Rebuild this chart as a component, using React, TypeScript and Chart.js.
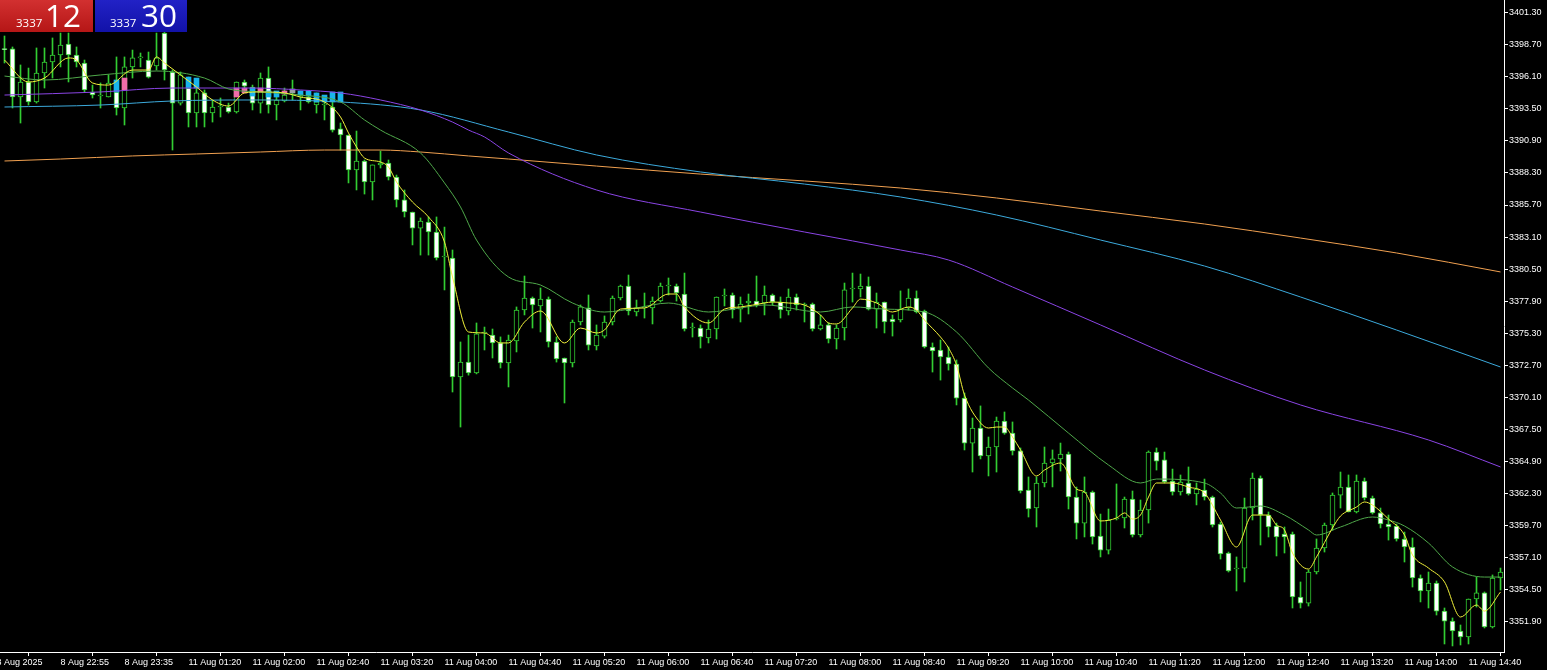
import React, { useEffect, useRef } from 'react';
import { Chart, registerables } from 'chart.js';
Chart.register(...registerables);

// ---- candle data (5-minute bars, index 0 = 8 Aug 22:15) ----
const opens = [
  3398.36, 3398.36, 3394.46, 3395.68, 3394.06, 3396.41, 3397.30, 3397.87, 3398.76, 3397.87,
  3397.22, 3394.87, 3394.54, 3394.46, 3394.87, 3393.57, 3396.90, 3397.63, 3397.46, 3396.98,
  3399.65, 3396.49, 3393.97, 3395.19, 3393.16, 3394.79, 3393.16, 3393.65, 3393.65, 3393.25,
  3395.68, 3395.27, 3393.97, 3396.00, 3393.81, 3394.14, 3394.87, 3394.46, 3394.46, 3393.81,
  3393.81, 3393.65, 3391.87, 3391.38, 3388.54, 3389.27, 3387.57, 3388.95, 3389.11, 3387.97,
  3386.11, 3385.13, 3383.83, 3384.32, 3383.51, 3381.48, 3381.40, 3371.75, 3372.96, 3372.07,
  3375.32, 3375.15, 3374.51, 3372.88, 3374.67, 3377.18, 3378.16, 3377.51, 3378.07, 3374.59,
  3373.29, 3372.88, 3376.21, 3377.35, 3374.26, 3375.07, 3376.21, 3378.16, 3379.13, 3377.02,
  3377.35, 3377.35, 3377.91, 3379.13, 3379.13, 3378.48, 3375.72, 3375.72, 3374.91, 3375.64,
  3378.32, 3378.40, 3377.26, 3377.75, 3377.91, 3377.75, 3378.40, 3377.83, 3377.10, 3378.24,
  3377.59, 3377.67, 3375.64, 3375.97, 3374.83, 3375.72, 3378.89, 3378.89, 3379.13, 3377.26,
  3377.83, 3376.45, 3376.37, 3377.35, 3378.16, 3377.10, 3374.18, 3373.94, 3373.37, 3372.80,
  3370.04, 3366.39, 3367.61, 3365.34, 3366.07, 3368.18, 3367.20, 3365.75, 3362.58, 3361.12,
  3363.15, 3364.77, 3365.10, 3365.50, 3362.01, 3359.90, 3362.42, 3358.85, 3357.71, 3360.23,
  3360.31, 3361.85, 3358.93, 3360.96, 3365.66, 3365.02, 3363.31, 3362.42, 3363.15, 3362.26,
  3362.58, 3362.01, 3359.82, 3357.47, 3356.17, 3356.25, 3361.12, 3363.55, 3360.55, 3359.66,
  3359.01, 3359.01, 3353.90, 3353.41, 3355.93, 3357.88, 3359.74, 3362.17, 3362.82, 3360.80,
  3363.31, 3361.93, 3360.72, 3359.82, 3359.66, 3358.61, 3357.96, 3355.44, 3354.39, 3355.04,
  3352.76, 3351.95, 3351.14, 3350.66, 3353.74, 3354.23, 3351.47, 3355.44,
];
const highs = [
  3399.41, 3398.52, 3397.06, 3396.81, 3398.44, 3398.44, 3399.25, 3399.65, 3399.65, 3398.52,
  3397.46, 3395.43, 3395.60, 3396.25, 3397.71, 3397.71, 3398.27, 3398.03, 3398.11, 3399.65,
  3399.70, 3396.65, 3396.49, 3396.08, 3395.19, 3395.03, 3394.22, 3394.38, 3393.97, 3395.68,
  3395.84, 3395.43, 3396.41, 3396.90, 3394.46, 3395.19, 3395.84, 3394.95, 3394.79, 3394.79,
  3394.46, 3394.06, 3392.35, 3391.38, 3391.70, 3389.35, 3388.95, 3390.08, 3389.35, 3388.13,
  3386.92, 3385.13, 3384.65, 3384.73, 3384.73, 3383.91, 3382.05, 3374.59, 3375.15, 3376.13,
  3375.80, 3375.64, 3375.00, 3375.15, 3377.43, 3379.94, 3378.24, 3378.97, 3378.24, 3375.00,
  3373.29, 3376.37, 3377.59, 3378.40, 3375.97, 3376.70, 3378.32, 3379.21, 3380.02, 3377.99,
  3378.56, 3378.24, 3379.37, 3379.78, 3379.29, 3380.18, 3376.13, 3375.97, 3376.37, 3378.24,
  3378.89, 3378.56, 3378.24, 3378.48, 3379.94, 3379.13, 3378.48, 3378.24, 3378.89, 3378.48,
  3377.75, 3377.75, 3376.78, 3376.13, 3375.97, 3379.37, 3380.18, 3380.10, 3379.86, 3378.56,
  3377.83, 3376.78, 3378.73, 3378.89, 3378.73, 3377.18, 3374.51, 3374.75, 3374.18, 3373.13,
  3370.45, 3368.42, 3369.40, 3366.88, 3368.50, 3368.91, 3368.10, 3365.99, 3363.64, 3363.64,
  3366.07, 3365.83, 3366.39, 3365.66, 3362.82, 3363.64, 3362.50, 3360.63, 3361.04, 3363.07,
  3362.01, 3362.50, 3361.77, 3365.75, 3365.99, 3365.66, 3364.28, 3363.80, 3364.45, 3363.15,
  3363.47, 3362.09, 3359.98, 3357.55, 3357.15, 3361.93, 3363.96, 3363.72, 3360.80, 3359.90,
  3359.58, 3359.17, 3355.12, 3356.09, 3358.61, 3359.90, 3362.34, 3364.04, 3363.80, 3363.80,
  3363.55, 3362.09, 3361.12, 3360.55, 3359.82, 3359.17, 3358.69, 3355.69, 3355.93, 3355.20,
  3353.01, 3352.20, 3351.63, 3353.74, 3355.52, 3354.31, 3355.69, 3356.25,
];
const lows = [
  3397.22, 3393.57, 3392.35, 3393.81, 3393.97, 3395.19, 3396.00, 3396.90, 3395.68, 3396.90,
  3394.87, 3394.38, 3393.57, 3394.46, 3393.00, 3392.19, 3396.00, 3396.90, 3396.00, 3396.65,
  3395.84, 3390.16, 3393.81, 3392.03, 3392.03, 3392.03, 3392.43, 3392.84, 3393.16, 3393.16,
  3395.19, 3393.41, 3393.16, 3393.16, 3392.60, 3394.06, 3394.22, 3393.41, 3393.97, 3393.16,
  3392.60, 3391.62, 3390.16, 3387.49, 3386.92, 3386.59, 3386.11, 3388.70, 3387.73, 3385.54,
  3384.73, 3382.46, 3381.64, 3381.64, 3381.24, 3378.81, 3370.53, 3367.69, 3371.90, 3372.00,
  3373.94, 3373.29, 3372.48, 3370.94, 3373.78, 3376.78, 3375.72, 3375.40, 3374.18, 3372.96,
  3369.64, 3372.56, 3375.97, 3373.94, 3373.94, 3374.91, 3375.97, 3378.00, 3376.78, 3376.70,
  3376.53, 3376.05, 3377.83, 3378.40, 3377.91, 3375.48, 3374.99, 3374.10, 3374.51, 3374.83,
  3377.51, 3376.53, 3376.21, 3376.86, 3377.43, 3376.78, 3377.59, 3376.53, 3376.78, 3377.18,
  3376.21, 3375.48, 3375.56, 3374.51, 3374.02, 3374.75, 3377.83, 3378.24, 3377.18, 3375.72,
  3375.32, 3375.07, 3376.21, 3377.18, 3376.94, 3374.10, 3372.15, 3371.50, 3372.31, 3369.48,
  3365.83, 3364.04, 3365.10, 3363.72, 3364.04, 3367.10, 3365.42, 3362.34, 3360.39, 3359.58,
  3362.83, 3362.83, 3364.12, 3361.04, 3358.61, 3358.77, 3358.20, 3357.15, 3357.39, 3360.15,
  3359.50, 3358.77, 3358.77, 3359.90, 3364.20, 3363.15, 3362.17, 3362.17, 3362.17, 3361.37,
  3361.77, 3359.58, 3356.98, 3355.93, 3354.39, 3355.12, 3360.15, 3358.12, 3358.77, 3357.23,
  3357.47, 3353.01, 3353.01, 3353.17, 3355.77, 3357.55, 3359.34, 3361.12, 3360.80, 3360.72,
  3361.77, 3360.63, 3359.50, 3358.52, 3358.44, 3356.74, 3354.71, 3353.50, 3353.01, 3352.44,
  3350.09, 3349.93, 3350.01, 3350.09, 3353.09, 3351.39, 3351.39, 3354.47,
];
const closes = [
  3398.30, 3394.46, 3395.68, 3394.06, 3396.41, 3397.30, 3397.87, 3398.68, 3397.87, 3397.30,
  3395.03, 3394.62, 3394.54, 3395.60, 3393.57, 3396.90, 3397.63, 3397.63, 3396.08, 3397.63,
  3396.65, 3393.97, 3396.25, 3393.16, 3394.79, 3393.16, 3393.65, 3393.65, 3393.25, 3395.68,
  3395.35, 3393.97, 3396.00, 3393.81, 3394.22, 3394.62, 3394.87, 3394.46, 3394.06, 3394.06,
  3393.81, 3391.78, 3391.38, 3388.54, 3389.27, 3387.57, 3388.95, 3389.11, 3387.97, 3386.11,
  3385.13, 3383.83, 3384.40, 3383.51, 3381.40, 3381.48, 3371.75, 3372.96, 3372.07, 3375.24,
  3375.32, 3374.51, 3372.88, 3374.75, 3377.18, 3378.16, 3377.59, 3378.07, 3374.59, 3373.21,
  3372.88, 3376.21, 3377.43, 3374.34, 3375.15, 3376.21, 3378.16, 3379.13, 3377.10, 3377.35,
  3377.35, 3377.91, 3379.13, 3379.13, 3378.56, 3375.64, 3375.72, 3374.99, 3375.64, 3378.24,
  3378.32, 3377.18, 3377.67, 3377.91, 3377.59, 3378.40, 3377.83, 3377.18, 3378.24, 3377.59,
  3377.59, 3375.64, 3375.97, 3374.83, 3375.72, 3378.81, 3378.89, 3379.13, 3377.26, 3377.83,
  3376.21, 3376.21, 3377.26, 3378.16, 3377.02, 3374.18, 3373.86, 3373.37, 3372.80, 3370.04,
  3366.39, 3367.61, 3365.34, 3366.07, 3368.18, 3367.20, 3365.75, 3362.50, 3361.04, 3363.15,
  3364.77, 3365.10, 3365.50, 3362.01, 3359.90, 3362.42, 3358.77, 3357.71, 3360.15, 3360.23,
  3361.85, 3358.93, 3360.96, 3365.66, 3364.93, 3363.23, 3362.42, 3363.23, 3362.26, 3362.66,
  3362.01, 3359.74, 3357.39, 3356.01, 3356.17, 3361.12, 3363.55, 3360.55, 3359.58, 3358.77,
  3358.77, 3353.90, 3353.41, 3355.93, 3357.88, 3359.74, 3362.17, 3362.82, 3360.80, 3363.31,
  3361.93, 3360.72, 3359.82, 3359.58, 3358.61, 3357.96, 3355.44, 3354.39, 3355.04, 3352.76,
  3351.95, 3351.14, 3350.66, 3353.74, 3354.23, 3351.47, 3355.44, 3355.93,
];

// ---- signal markers drawn on some bars ----
const markerIdx = [14, 15, 23, 24, 29, 30, 31, 32, 33, 34, 35, 36, 37, 38, 39, 40, 41, 42];
const markerLo = [3394.87, 3395.03, 3395.19, 3395.19, 3394.46, 3394.79, 3394.54, 3394.87, 3394.46, 3394.46, 3394.70, 3394.79, 3394.62, 3394.54, 3394.06, 3394.06, 3394.06, 3394.06];
const markerHi = [3395.84, 3396.00, 3396.08, 3396.00, 3395.19, 3395.19, 3395.19, 3395.19, 3394.95, 3394.95, 3394.95, 3395.11, 3394.95, 3394.95, 3394.79, 3394.62, 3394.87, 3394.87];
const markerKind = ['up', 'dn', 'up', 'up', 'dn', 'dn', 'up', 'dn', 'up', 'up', 'dn', 'flat', 'up', 'up', 'up', 'up', 'up', 'up'];

// ---- moving averages: [bar index, price] ----
const maFast: [number, number][] = [
  [0, 3397.46], [3, 3395.68], [5, 3396.0], [8, 3397.63], [9, 3397.46], [11, 3395.6], [13, 3395.43], [16, 3396.65],
  [18, 3396.65], [19, 3397.71], [20, 3397.22], [22, 3396.25], [24, 3395.27], [26, 3394.22], [28, 3393.73], [30, 3394.79],
  [32, 3394.87], [35, 3394.79], [37, 3394.46], [40, 3394.06], [42, 3392.84], [43, 3391.54], [44, 3390.41], [45, 3389.51],
  [47, 3389.19], [48, 3388.78], [49, 3387.57], [51, 3385.94], [53, 3384.73], [55, 3382.7], [56, 3379.86], [58, 3375.4],
  [60, 3375.32], [62, 3374.51], [63, 3374.51], [65, 3376.21], [67, 3377.1], [70, 3374.51], [72, 3375.72], [74, 3375.32],
  [75, 3375.56], [77, 3377.26], [80, 3377.35], [83, 3378.48], [84, 3378.48], [85, 3377.43], [88, 3376.13], [90, 3377.26],
  [92, 3377.43], [95, 3377.75], [96, 3377.83], [98, 3377.75], [100, 3377.59], [102, 3376.78], [103, 3376.13], [104, 3376.05],
  [106, 3377.35], [107, 3378.07], [109, 3377.75], [111, 3377.02], [113, 3377.43], [114, 3377.18], [115, 3376.37], [117, 3374.99],
  [118, 3374.1], [119, 3372.72], [120, 3370.29], [122, 3368.02], [123, 3367.61], [124, 3367.69], [125, 3367.69], [126, 3366.88],
  [127, 3365.83], [129, 3363.72], [130, 3364.2], [132, 3364.77], [134, 3362.66], [135, 3362.42], [137, 3360.07], [139, 3360.31],
  [140, 3360.72], [141, 3360.23], [142, 3360.55], [143, 3362.01], [144, 3363.15], [146, 3363.15], [148, 3362.82], [150, 3362.34],
  [152, 3360.15], [154, 3357.96], [156, 3360.55], [158, 3360.55], [159, 3359.74], [160, 3359.34], [161, 3357.47], [163, 3356.17],
  [164, 3357.15], [166, 3359.5], [167, 3360.47], [169, 3361.2], [170, 3361.61], [171, 3361.36], [173, 3360.23], [175, 3358.93],
  [176, 3357.31], [178, 3356.25], [180, 3355.12], [182, 3352.28], [184, 3353.25], [185, 3352.76], [187, 3354.31],
];
const maMid: [number, number][] = [
  [0, 3396.16], [5, 3395.84], [12, 3396.25], [19, 3396.57], [25, 3396.0], [28, 3395.11], [32, 3394.87], [37, 3394.62],
  [42, 3394.06], [45, 3392.6], [47, 3391.78], [52, 3389.92], [55, 3387.49], [57, 3385.54], [59, 3382.86], [63, 3379.86],
  [67, 3379.21], [71, 3377.75], [75, 3377.02], [79, 3377.35], [83, 3377.75], [88, 3377.02], [92, 3377.35], [95, 3377.59],
  [102, 3377.02], [106, 3377.43], [110, 3377.26], [115, 3377.02], [119, 3375.4], [123, 3372.48], [126, 3370.86], [128, 3369.88],
  [133, 3367.2], [138, 3364.61], [142, 3363.15], [144, 3363.47], [150, 3363.15], [152, 3362.34], [154, 3361.12], [157, 3361.28],
  [160, 3360.55], [163, 3359.34], [164, 3358.93], [167, 3359.58], [171, 3360.39], [173, 3360.15], [175, 3359.66], [178, 3358.28],
  [181, 3356.34], [185, 3355.52], [187, 3355.52],
];
const maPurple: [number, number][] = [
  [0, 3394.62], [12, 3394.87], [21, 3395.19], [31, 3395.19], [37, 3395.03], [42, 3394.79], [47, 3394.22], [52, 3393.41],
  [56, 3392.43], [58, 3391.78], [60, 3391.22], [63, 3389.92], [74, 3386.92], [87, 3385.13], [100, 3383.51], [112, 3382.05],
  [118, 3381.24], [126, 3379.05], [137, 3375.97], [150, 3372.32], [162, 3369.48], [178, 3366.64], [187, 3364.45],
];
const maCyan: [number, number][] = [
  [0, 3393.65], [12, 3393.81], [21, 3394.14], [31, 3394.22], [42, 3394.06], [52, 3393.41], [63, 3391.62], [74, 3389.76],
  [87, 3388.38], [100, 3387.4], [112, 3386.35], [124, 3384.89], [137, 3382.86], [150, 3380.75], [162, 3378.24], [174, 3375.56],
  [187, 3372.56],
];
const maOrange: [number, number][] = [
  [0, 3389.27], [7, 3389.43], [16, 3389.68], [24, 3389.84], [32, 3390.0], [40, 3390.16], [47, 3390.16], [52, 3390.0],
  [58, 3389.68], [63, 3389.43], [74, 3388.86], [87, 3388.21], [100, 3387.65], [112, 3387.08], [124, 3386.27], [137, 3385.21],
  [150, 3384.16], [162, 3383.02], [174, 3381.81], [187, 3380.27],
];

// ---- axes ----
const yTicks = [
  3351.9, 3354.5, 3357.1, 3359.7, 3362.3, 3364.9, 3367.5, 3370.1, 3372.7, 3375.3,
  3377.9, 3380.5, 3383.1, 3385.7, 3388.3, 3390.9, 3393.5, 3396.1, 3398.7, 3401.3,
];
const xTickIdx = [-1, 7, 15, 23, 31, 39, 47, 55, 63, 71, 79, 87, 95, 103, 111, 119, 127, 135, 143, 151, 159, 167, 175, 183];
const xTickLabels = [
  '8 Aug 2025', '8 Aug 22:55', '8 Aug 23:35', '11 Aug 01:20', '11 Aug 02:00', '11 Aug 02:40', '11 Aug 03:20',
  '11 Aug 04:00', '11 Aug 04:40', '11 Aug 05:20', '11 Aug 06:00', '11 Aug 06:40', '11 Aug 07:20', '11 Aug 08:00',
  '11 Aug 08:40', '11 Aug 09:20', '11 Aug 10:00', '11 Aug 10:40', '11 Aug 11:20', '11 Aug 12:00', '11 Aug 12:40',
  '11 Aug 13:20', '11 Aug 14:00', '11 Aug 14:40',
];
const yMin = 3349.44;
const yMax = 3402.33;
const xMin = -0.5625;
const xMax = 187.4375;

const CANDLE = '#32cd32';
const AXIS_FONT = { family: 'Liberation Sans, Arial, sans-serif', size: 9 };

const zeroPad = (s: any) => {
  s.paddingLeft = 0;
  s.paddingRight = 0;
  s.paddingTop = 0;
  s.paddingBottom = 0;
};

export default function App() {
  const ref = useRef<HTMLCanvasElement>(null);

  useEffect(() => {
    document.body.style.margin = '0';
    document.body.style.background = '#000';
    const canvas = ref.current;
    if (!canvas) return;

    const wickData = opens.map((_, i) => ({ x: i, y: [lows[i], highs[i]] }));
    const bodyData = opens.map((o, i) => ({ x: i, y: [o, closes[i]] }));
    const bodyFill = opens.map((o, i) => (closes[i] < o ? '#ffffff' : '#000000'));
    const markerData = markerIdx.map((x, k) => ({ x, y: [markerLo[k], markerHi[k]] }));
    const markerColors = markerKind.map((k) => (k === 'up' ? '#19b4ec' : k === 'dn' ? '#f06ca8' : '#9aa0a6'));
    const toPts = (arr: [number, number][]) => arr.map(([x, y]) => ({ x, y }));

    const lineDs = (data: [number, number][], color: string, tension: number) => ({
      type: 'line' as const,
      data: toPts(data),
      borderColor: color,
      borderWidth: 1,
      pointRadius: 0,
      tension,
      cubicInterpolationMode: 'monotone' as const,
      order: 0,
      fill: false,
    });

    const chart = new Chart(canvas, {
      type: 'bar',
      data: {
        datasets: [
          lineDs(maFast, '#f2f23a', 0),
          lineDs(maMid, '#4fa84a', 0.3),
          lineDs(maPurple, '#8a44e4', 0.4),
          lineDs(maCyan, '#3caadc', 0.4),
          lineDs(maOrange, '#f0a050', 0.4),
          {
            type: 'bar',
            data: markerData as any,
            backgroundColor: markerColors,
            barThickness: 5,
            grouped: false,
            borderWidth: 0,
            order: 1,
          },
          {
            type: 'bar',
            data: bodyData as any,
            backgroundColor: bodyFill,
            borderColor: CANDLE,
            borderWidth: 1,
            borderSkipped: false,
            minBarLength: 1,
            barThickness: 5,
            grouped: false,
            order: 2,
          },
          {
            type: 'bar',
            data: wickData as any,
            backgroundColor: CANDLE,
            borderWidth: 0,
            barThickness: 1,
            minBarLength: 1,
            grouped: false,
            order: 3,
          },
        ] as any,
      },
      options: {
        responsive: false,
        devicePixelRatio: 1,
        animation: false,
        events: [],
        layout: { padding: 0 },
        plugins: { legend: { display: false }, tooltip: { enabled: false } },
        scales: {
          x: {
            type: 'linear',
            position: 'bottom',
            min: xMin,
            max: xMax,
            bounds: 'data',
            offset: false,
            afterFit: (s: any) => {
              s.height = 18;
              zeroPad(s);
            },
            afterBuildTicks: (s: any) => {
              s.ticks = xTickIdx.map((v) => ({ value: v }));
            },
            ticks: {
              autoSkip: false,
              maxRotation: 0,
              minRotation: 0,
              align: 'start',
              color: '#ffffff',
              font: AXIS_FONT,
              padding: 1,
              callback: (_v: any, i: number) => xTickLabels[i],
            },
            grid: { display: true, drawOnChartArea: false, drawTicks: true, tickLength: 4, color: '#ffffff', lineWidth: 1 },
            border: { display: true, color: '#ffffff', width: 1 },
          },
          y: {
            type: 'linear',
            position: 'right',
            min: yMin,
            max: yMax,
            bounds: 'data',
            afterFit: (s: any) => {
              s.width = 43;
              zeroPad(s);
            },
            afterBuildTicks: (s: any) => {
              s.ticks = yTicks.map((v) => ({ value: v }));
            },
            ticks: {
              autoSkip: false,
              color: '#ffffff',
              font: AXIS_FONT,
              padding: 1,
              crossAlign: 'near',
              callback: (v: any) => Number(v).toFixed(2),
            },
            grid: { display: true, drawOnChartArea: false, drawTicks: true, tickLength: 4, color: '#ffffff', lineWidth: 1 },
            border: { display: true, color: '#ffffff', width: 1 },
          },
        },
      } as any,
    });

    return () => chart.destroy();
  }, []);

  const boxBase: React.CSSProperties = {
    position: 'absolute',
    top: 0,
    height: 32,
    width: 92,
    color: '#ffffff',
    fontFamily: '"Open Sans", "Noto Sans", sans-serif',
  };
  const small: React.CSSProperties = { position: 'absolute', top: 16.5, fontSize: 11.5, lineHeight: 1 };
  const big: React.CSSProperties = { position: 'absolute', top: -1.5, fontSize: 31.5, lineHeight: 1 };

  return (
    <div style={{ position: 'relative', width: 1547, height: 670, background: '#000', overflow: 'hidden' }}>
      <canvas ref={ref} width={1547} height={670} style={{ display: 'block', width: 1547, height: 670 }} />
      <div style={{ ...boxBase, left: 0, width: 93, background: 'linear-gradient(#d23030, #b51616)' }}>
        <span style={{ ...small, left: 16 }}>3337</span>
        <span style={{ ...big, left: 45 }}>12</span>
      </div>
      <div style={{ ...boxBase, left: 95, background: 'linear-gradient(#2222c6, #1212a8)' }}>
        <span style={{ ...small, left: 15 }}>3337</span>
        <span style={{ ...big, left: 46 }}>30</span>
      </div>
    </div>
  );
}
